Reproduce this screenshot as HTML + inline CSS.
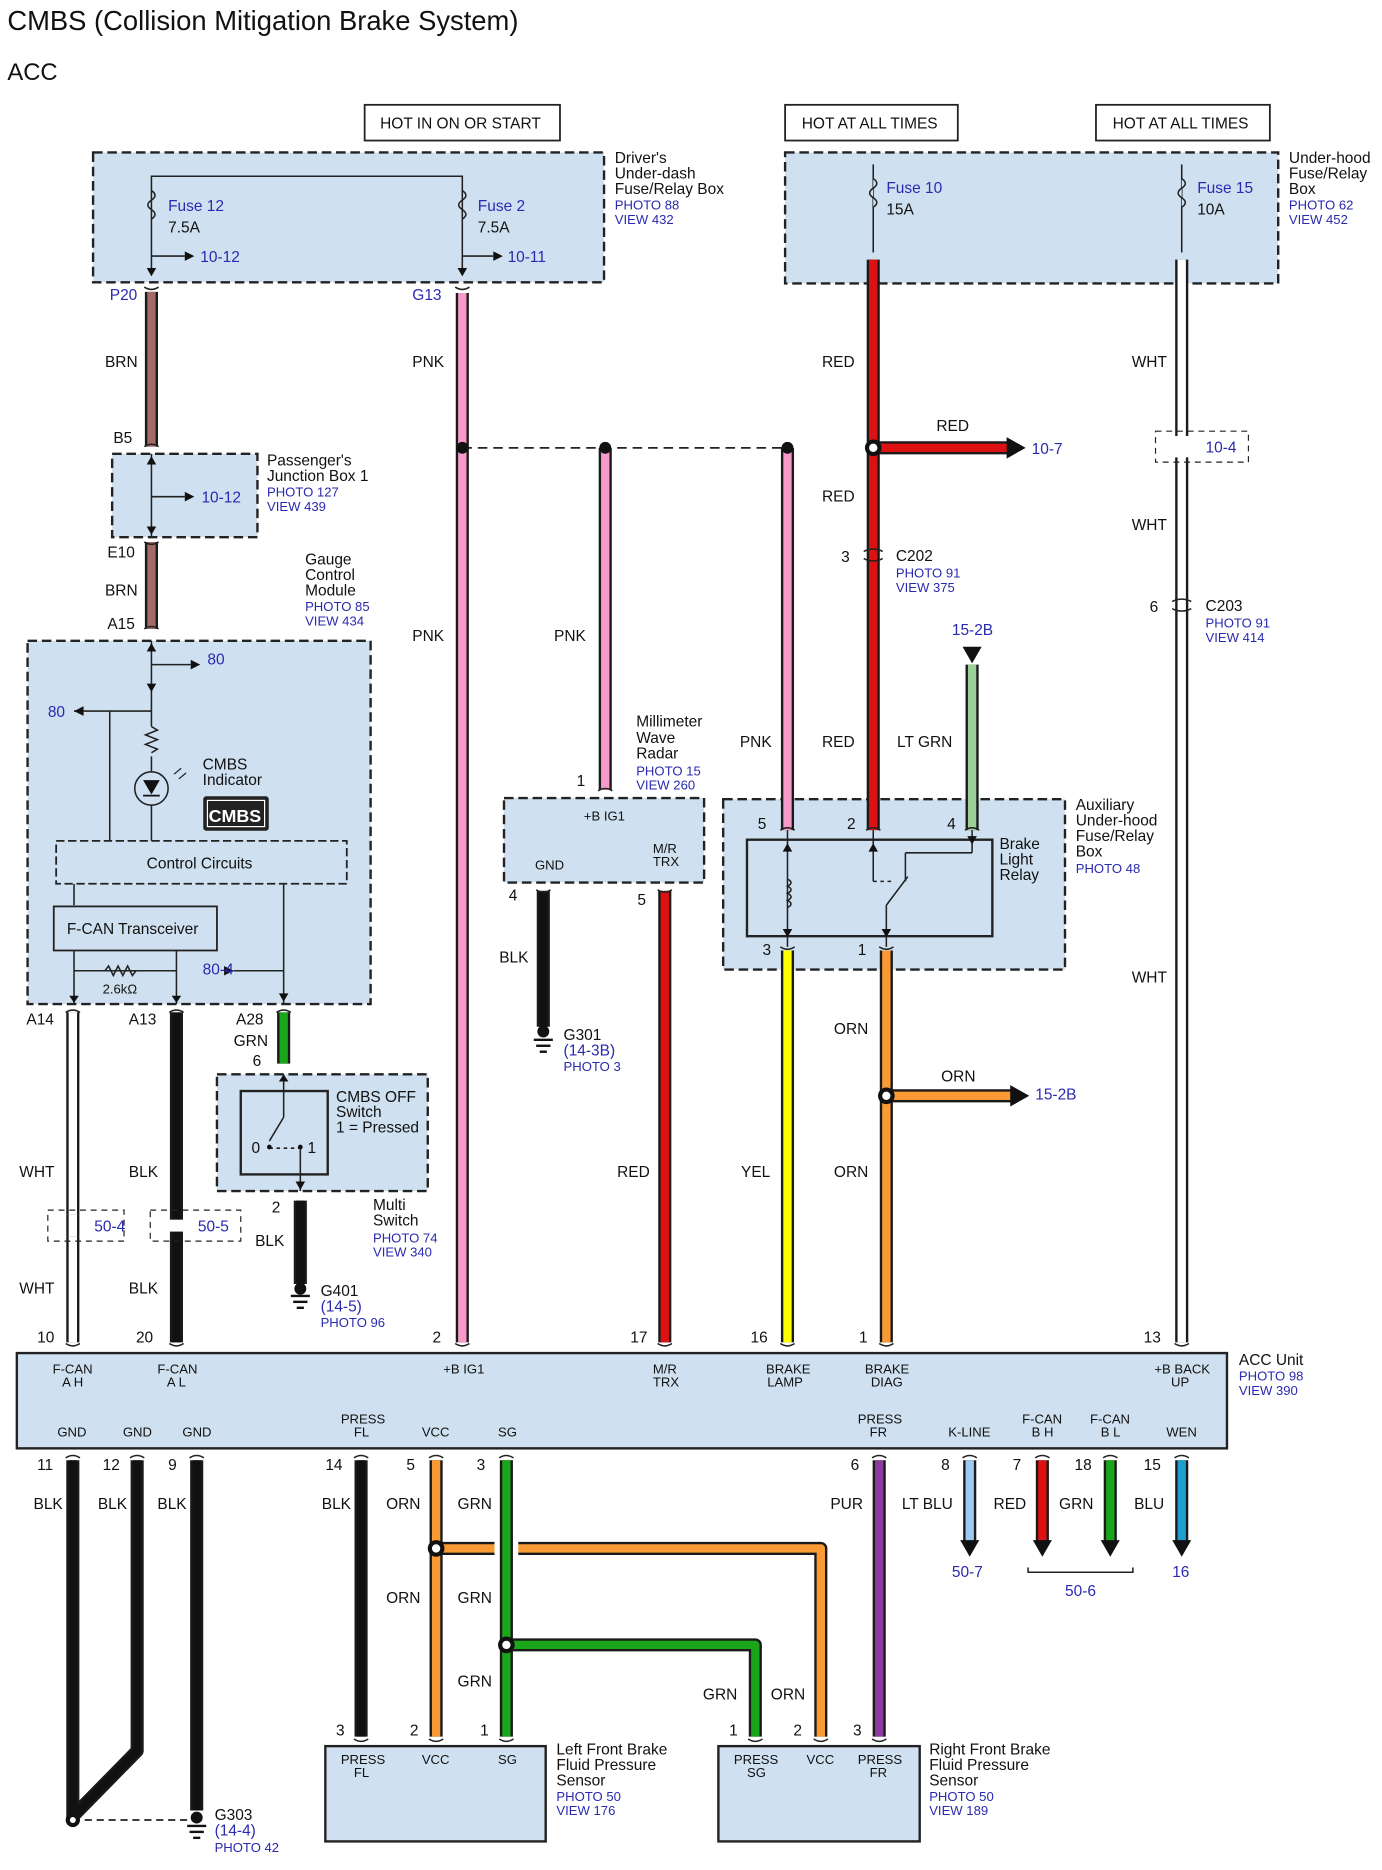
<!DOCTYPE html>
<html><head><meta charset="utf-8">
<style>
html,body{margin:0;padding:0;background:#fff}
svg{display:block}
text{font-family:"Liberation Sans",Arial,sans-serif;font-size:13px;fill:#111}
.b{fill:#2a2ab0}
.s{font-size:11px}
.o{stroke:#1a1a1a;stroke-width:11;fill:none;stroke-linejoin:round}
.i{stroke-width:7;fill:none;stroke-linejoin:round}
.box{fill:#cfe0f0;stroke:#222;stroke-width:2;stroke-dasharray:8 4}
.sol{fill:none;stroke:#222;stroke-width:1.5}
.ln{stroke:#222;stroke-width:1.3;fill:none}
</style></head><body>
<svg width="1382" height="1870" viewBox="0 0 1160 1570" xmlns="http://www.w3.org/2000/svg">
<text x="6" y="25" style="font-size:23px">CMBS (Collision Mitigation Brake System)</text>
<text x="6" y="67" style="font-size:20px">ACC</text>

<!-- top labels -->
<rect x="306" y="88" width="164" height="30" fill="#fff" stroke="#222" stroke-width="1.5"/><text x="319" y="108">HOT IN ON OR START</text>
<rect x="659" y="88" width="145" height="30" fill="#fff" stroke="#222" stroke-width="1.5"/><text x="673" y="108">HOT AT ALL TIMES</text>
<rect x="920" y="88" width="146" height="30" fill="#fff" stroke="#222" stroke-width="1.5"/><text x="934" y="108">HOT AT ALL TIMES</text>

<!-- boxes -->
<rect class="box" x="78" y="128" width="429" height="109"/>
<rect class="box" x="659" y="128" width="414" height="110"/>
<rect class="box" x="94" y="381" width="122" height="70"/>
<rect class="box" x="23" y="538" width="288" height="305"/>
<rect class="box" x="423" y="670" width="168" height="71"/>
<rect class="box" x="607" y="671" width="287" height="143"/>
<rect class="box" x="182" y="902" width="177" height="98"/>
<rect x="14" y="1136" width="1016" height="80" fill="#cfe0f0" stroke="#222" stroke-width="2"/>
<rect x="273" y="1466" width="185" height="80" fill="#cfe0f0" stroke="#222" stroke-width="2"/>
<rect x="603" y="1466" width="169" height="80" fill="#cfe0f0" stroke="#222" stroke-width="2"/>

<!-- driver's box internals -->
<polyline class="ln" points="127,225 127,148 388,148 388,225"/>
<path class="ln" d="M127,160 q6,4 0,8 q-6,4 0,8 q6,4 0,8" fill="none"/>
<path class="ln" d="M388,160 q6,4 0,8 q-6,4 0,8 q6,4 0,8" fill="none"/>
<line class="ln" x1="127" y1="215" x2="155" y2="215"/><polygon points="155,211 163,215 155,219" fill="#111"/>
<line class="ln" x1="388" y1="215" x2="414" y2="215"/><polygon points="414,211 422,215 414,219" fill="#111"/>
<polygon points="123,225 131,225 127,232" fill="#111"/><polygon points="384,225 392,225 388,232" fill="#111"/>
<text x="141" y="177" class="b">Fuse 12</text><text x="141" y="195">7.5A</text><text x="168" y="220" class="b">10-12</text>
<text x="401" y="177" class="b">Fuse 2</text><text x="401" y="195">7.5A</text><text x="426" y="220" class="b">10-11</text>
<text x="516" y="137">Driver's</text><text x="516" y="150">Under-dash</text><text x="516" y="163">Fuse/Relay Box</text>
<text x="516" y="176" class="b s">PHOTO 88</text><text x="516" y="188" class="b s">VIEW 432</text>

<!-- underhood internals -->
<line class="ln" x1="733" y1="138" x2="733" y2="212"/><line class="ln" x1="992" y1="138" x2="992" y2="212"/>
<path d="M733,150 q6,4 0,8 q-6,4 0,8 q6,4 0,8" fill="#cfe0f0" stroke="#222" stroke-width="1.3"/>
<path d="M992,150 q6,4 0,8 q-6,4 0,8 q6,4 0,8" fill="#cfe0f0" stroke="#222" stroke-width="1.3"/>
<text x="744" y="162" class="b">Fuse 10</text><text x="744" y="180">15A</text>
<text x="1005" y="162" class="b">Fuse 15</text><text x="1005" y="180">10A</text>
<text x="1082" y="137">Under-hood</text><text x="1082" y="150">Fuse/Relay</text><text x="1082" y="163">Box</text>
<text x="1082" y="176" class="b s">PHOTO 62</text><text x="1082" y="188" class="b s">VIEW 452</text>

<!-- upper wires -->
<line class="o" x1="127" y1="245" x2="127" y2="375"/><line class="i" stroke="#a36a68" x1="127" y1="245" x2="127" y2="375"/>
<line class="o" x1="127" y1="455" x2="127" y2="528"/><line class="i" stroke="#a36a68" x1="127" y1="455" x2="127" y2="528"/>
<line class="o" x1="388" y1="246" x2="388" y2="1127"/><line class="i" stroke="#f79ac9" x1="388" y1="246" x2="388" y2="1127"/>
<line class="o" x1="508" y1="376" x2="508" y2="663"/><line class="i" stroke="#f79ac9" x1="508" y1="376" x2="508" y2="663"/>
<line class="o" x1="661" y1="376" x2="661" y2="697"/><line class="i" stroke="#f79ac9" x1="661" y1="376" x2="661" y2="697"/>
<line class="o" x1="733" y1="218" x2="733" y2="697"/><line class="i" stroke="#d11" x1="733" y1="218" x2="733" y2="697"/>
<line class="o" x1="733" y1="376" x2="848" y2="376"/><line class="i" stroke="#d11" x1="733" y1="376" x2="848" y2="376"/>
<polygon points="845,367 861,376 845,385" fill="#111"/>
<line class="o" x1="992" y1="218" x2="992" y2="1127"/><line class="i" stroke="#fff" x1="992" y1="218" x2="992" y2="1127"/>
<line class="o" x1="816" y1="558" x2="816" y2="697"/><line class="i" stroke="#9acf98" x1="816" y1="558" x2="816" y2="697"/>
<polygon points="808,543 824,543 816,557" fill="#111"/>
<line stroke="#222" stroke-width="1.5" stroke-dasharray="8 5" x1="388" y1="376" x2="661" y2="376"/>
<circle cx="388" cy="376" r="5" fill="#111"/><circle cx="508" cy="376" r="5" fill="#111"/><circle cx="661" cy="376" r="5" fill="#111"/>
<circle cx="733" cy="376" r="7" fill="#111"/><circle cx="733" cy="376" r="3.5" fill="#fff"/>
<rect x="970" y="362" width="78" height="26" fill="none" stroke="#222" stroke-dasharray="5 4" stroke-width="1"/>
<rect x="980" y="366" width="30" height="18" fill="#fff"/>
<text x="1012" y="380" class="b">10-4</text>

<!-- connector marks -->
<g class="ln">
<path d="M121,241 q6,4 12,0"/><path d="M121,375 q6,-4 12,0"/><path d="M121,455 q6,4 12,0"/><path d="M121,528 q6,-4 12,0"/>
<path d="M382,241 q6,4 12,0"/>
<path d="M725,463 q8,-4 16,0"/><path d="M725,469 q8,4 16,0"/>
<path d="M984,505 q8,-4 16,0"/><path d="M984,511 q8,4 16,0"/>
</g>
<text x="92" y="252" class="b">P20</text><text x="346" y="252" class="b">G13</text>
<text x="88" y="308">BRN</text><text x="346" y="308">PNK</text><text x="690" y="308">RED</text><text x="950" y="308">WHT</text>
<text x="95" y="372">B5</text><text x="786" y="362">RED</text><text x="866" y="381" class="b">10-7</text>
<text x="690" y="421">RED</text><text x="950" y="445">WHT</text>
<text x="706" y="472">3</text><text x="752" y="471">C202</text><text x="752" y="485" class="b s">PHOTO 91</text><text x="752" y="497" class="b s">VIEW 375</text>
<text x="965" y="514">6</text><text x="1012" y="513">C203</text><text x="1012" y="527" class="b s">PHOTO 91</text><text x="1012" y="539" class="b s">VIEW 414</text>
<text x="799" y="533" class="b">15-2B</text>
<text x="90" y="468">E10</text><text x="88" y="500">BRN</text><text x="90" y="528">A15</text>
<text x="346" y="538">PNK</text><text x="465" y="538">PNK</text>

<!-- passenger JB -->
<line class="ln" x1="127" y1="381" x2="127" y2="451"/>
<polygon points="123,390 131,390 127,383" fill="#111"/><polygon points="123,442 131,442 127,449" fill="#111"/>
<line class="ln" x1="127" y1="417" x2="155" y2="417"/><polygon points="155,413 163,417 155,421" fill="#111"/>
<text x="169" y="422" class="b">10-12</text>
<text x="224" y="391">Passenger's</text><text x="224" y="404">Junction Box 1</text>
<text x="224" y="417" class="b s">PHOTO 127</text><text x="224" y="429" class="b s">VIEW 439</text>

<!-- gauge module -->
<text x="256" y="474">Gauge</text><text x="256" y="487">Control</text><text x="256" y="500">Module</text>
<text x="256" y="513" class="b s">PHOTO 85</text><text x="256" y="525" class="b s">VIEW 434</text>
<g class="ln">
<line x1="127" y1="538" x2="127" y2="610"/>
<line x1="127" y1="558" x2="160" y2="558"/>
<line x1="62" y1="597" x2="127" y2="597"/>
<line x1="92" y1="597" x2="92" y2="706"/>
<path d="M127,610 l5,3 -10,4 10,4 -10,4 10,4 -5,3"/>
<line x1="127" y1="635" x2="127" y2="648"/>
<circle cx="127" cy="662" r="14"/>
<line x1="127" y1="676" x2="127" y2="706"/>
<line x1="62" y1="742" x2="62" y2="760"/><line x1="238" y1="742" x2="238" y2="815"/>
<line x1="62" y1="798" x2="62" y2="843"/><line x1="148" y1="798" x2="148" y2="843"/>
<line x1="62" y1="815" x2="148" y2="815"/>
<path d="M88,815 l3,-4 4,8 4,-8 4,8 4,-8 4,8 3,-4"/>
<line x1="196" y1="815" x2="238" y2="815"/>
<line x1="238" y1="815" x2="238" y2="843"/>
</g>
<polygon points="123,547 131,547 127,540" fill="#111"/><polygon points="123,574 131,574 127,581" fill="#111"/>
<polygon points="160,554 168,558 160,562" fill="#111"/><polygon points="70,593 62,597 70,601" fill="#111"/>
<polygon points="120,655 134,655 127,667" fill="#111"/><line x1="120" y1="668" x2="134" y2="668" stroke="#111" stroke-width="1.5"/>
<path d="M146,650 l6,-5 M150,654 l6,-5" stroke="#222"/>
<polygon points="58,836 66,836 62,842" fill="#111"/><polygon points="144,836 152,836 148,842" fill="#111"/>
<polygon points="188,811 196,815 188,819" fill="#111"/><polygon points="234,834 242,834 238,841" fill="#111"/>
<text x="174" y="558" class="b">80</text><text x="40" y="602" class="b">80</text>
<text x="170" y="646">CMBS</text><text x="170" y="659">Indicator</text>
<rect x="171" y="669" width="54" height="28" fill="#222" stroke="#222" rx="2"/>
<rect x="174" y="672" width="48" height="22" fill="none" stroke="#fff" stroke-width="1"/>
<text x="175" y="690" style="fill:#fff;font-weight:bold;font-size:15px">CMBS</text>
<rect x="47" y="706" width="244" height="36" fill="#cfe0f0" stroke="#222" stroke-width="1.5" stroke-dasharray="7 3"/>
<text x="123" y="729">Control Circuits</text>
<rect x="45" y="761" width="137" height="37" fill="#cfe0f0" stroke="#222" stroke-width="1.5"/>
<text x="56" y="784">F-CAN Transceiver</text>
<text x="86" y="834" class="s">2.6kΩ</text><text x="170" y="818" class="b">80-4</text>

<!-- wires gauge down -->
<line class="o" x1="61" y1="850" x2="61" y2="1127"/><line class="i" stroke="#fff" x1="61" y1="850" x2="61" y2="1127"/>
<line class="o" x1="148" y1="850" x2="148" y2="1127"/><line class="i" stroke="#111" x1="148" y1="850" x2="148" y2="1127"/>
<line class="o" x1="238" y1="850" x2="238" y2="893"/><line class="i" stroke="#1aa51a" x1="238" y1="850" x2="238" y2="893"/>
<line class="o" x1="252" y1="1008" x2="252" y2="1078"/><line class="i" stroke="#111" x1="252" y1="1008" x2="252" y2="1078"/>
<g class="ln"><path d="M55,850 q6,-4 12,0"/><path d="M142,850 q6,-4 12,0"/><path d="M232,850 q6,-4 12,0"/></g>
<text x="22" y="860">A14</text><text x="108" y="860">A13</text><text x="198" y="860">A28</text>
<text x="196" y="878">GRN</text><text x="212" y="895">6</text>
<text x="16" y="988">WHT</text><text x="108" y="988">BLK</text>
<rect x="40" y="1016" width="64" height="26" fill="none" stroke="#222" stroke-dasharray="5 4" stroke-width="1"/>
<rect x="126" y="1016" width="76" height="26" fill="none" stroke="#222" stroke-dasharray="5 4" stroke-width="1"/>
<rect x="50" y="1020" width="24" height="18" fill="#fff"/>
<line class="o" x1="61" y1="1020" x2="61" y2="1038"/><line class="i" stroke="#fff" x1="61" y1="1020" x2="61" y2="1038"/>
<rect x="141" y="1024" width="14" height="10" fill="#fff"/>
<text x="79" y="1034" class="b">50-4</text><text x="166" y="1034" class="b">50-5</text>
<text x="16" y="1086">WHT</text><text x="108" y="1086">BLK</text>
<text x="31" y="1127">10</text><text x="114" y="1127">20</text>

<!-- switch -->
<rect x="202" y="916" width="73" height="70" fill="none" stroke="#222" stroke-width="2"/>
<g class="ln"><line x1="238" y1="902" x2="238" y2="938"/><line x1="238" y1="938" x2="226" y2="958"/>
<line x1="226" y1="964" x2="252" y2="964" stroke-dasharray="3 3"/><line x1="252" y1="964" x2="252" y2="1000"/></g>
<circle cx="226" cy="963" r="2" fill="#111"/><circle cx="252" cy="963" r="2" fill="#111"/>
<polygon points="234,908 242,908 238,902" fill="#111"/><polygon points="248,992 256,992 252,999" fill="#111"/>
<text x="211" y="968">0</text><text x="258" y="968">1</text>
<text x="282" y="925">CMBS OFF</text><text x="282" y="938">Switch</text><text x="282" y="951">1 = Pressed</text>
<text x="228" y="1018">2</text><text x="214" y="1046">BLK</text>
<text x="313" y="1016">Multi</text><text x="313" y="1029">Switch</text><text x="313" y="1043" class="b s">PHOTO 74</text><text x="313" y="1055" class="b s">VIEW 340</text>
<g stroke="#111" stroke-width="2"><line x1="244" y1="1088" x2="260" y2="1088"/><line x1="246" y1="1093" x2="258" y2="1093"/><line x1="249" y1="1098" x2="255" y2="1098"/></g>
<circle cx="252" cy="1082" r="5" fill="#111"/>
<text x="269" y="1088">G401</text><text x="269" y="1101" class="b">(14-5)</text><text x="269" y="1114" class="b s">PHOTO 96</text>

<!-- radar -->
<line class="o" x1="456" y1="748" x2="456" y2="862"/><line class="i" stroke="#111" x1="456" y1="748" x2="456" y2="862"/>
<line class="o" x1="558" y1="748" x2="558" y2="1127"/><line class="i" stroke="#d11" x1="558" y1="748" x2="558" y2="1127"/>
<circle cx="456" cy="866" r="5" fill="#111"/>
<g stroke="#111" stroke-width="2"><line x1="448" y1="873" x2="464" y2="873"/><line x1="450" y1="878" x2="462" y2="878"/><line x1="453" y1="883" x2="459" y2="883"/></g>
<g class="ln"><path d="M502,664 q6,-4 12,0"/><path d="M450,747 q6,4 12,0"/><path d="M552,747 q6,4 12,0"/></g>
<text x="484" y="660">1</text><text x="490" y="689" class="s">+B IG1</text>
<text x="449" y="730" class="s">GND</text><text x="548" y="716" class="s">M/R</text><text x="548" y="727" class="s">TRX</text>
<text x="427" y="756">4</text><text x="535" y="760">5</text>
<text x="534" y="610">Millimeter</text><text x="534" y="624">Wave</text><text x="534" y="637">Radar</text>
<text x="534" y="651" class="b s">PHOTO 15</text><text x="534" y="663" class="b s">VIEW 260</text>
<text x="419" y="808">BLK</text>
<text x="473" y="873">G301</text><text x="473" y="886" class="b">(14-3B)</text><text x="473" y="899" class="b s">PHOTO 3</text>
<text x="518" y="988">RED</text>

<!-- aux box -->
<text x="621" y="627">PNK</text><text x="690" y="627">RED</text><text x="753" y="627">LT GRN</text>
<text x="636" y="696">5</text><text x="711" y="696">2</text><text x="795" y="696">4</text>
<rect x="627" y="705" width="206" height="81" fill="none" stroke="#222" stroke-width="2"/>
<g class="ln">
<line x1="661" y1="697" x2="661" y2="795"/><line x1="744" y1="760" x2="744" y2="795"/>
<line x1="733" y1="697" x2="733" y2="740"/><line x1="816" y1="697" x2="816" y2="716"/><line x1="816" y1="716" x2="760" y2="716"/><line x1="760" y1="716" x2="760" y2="740"/>
<line x1="733" y1="740" x2="748" y2="740" stroke-dasharray="3 3"/><line x1="744" y1="760" x2="762" y2="736"/>
<path d="M661,738 q6,3 0,6 q6,3 0,6 q6,3 0,6 q6,3 0,6"/>
</g>
<polygon points="657,715 665,715 661,708" fill="#111"/><polygon points="657,780 665,780 661,787" fill="#111"/>
<polygon points="729,715 737,715 733,708" fill="#111"/><polygon points="740,780 748,780 744,787" fill="#111"/>
<polygon points="812,702 820,702 816,709" fill="#111"/>
<text x="839" y="713">Brake</text><text x="839" y="726">Light</text><text x="839" y="739">Relay</text>
<text x="903" y="680">Auxiliary</text><text x="903" y="693">Under-hood</text><text x="903" y="706">Fuse/Relay</text><text x="903" y="719">Box</text><text x="903" y="733" class="b s">PHOTO 48</text>
<g class="ln"><path d="M655,697 q6,-4 12,0"/><path d="M727,697 q6,-4 12,0"/><path d="M810,697 q6,-4 12,0"/><path d="M655,795 q6,4 12,0"/><path d="M738,795 q6,4 12,0"/></g>
<text x="640" y="802">3</text><text x="720" y="802">1</text>
<line class="o" x1="661" y1="798" x2="661" y2="1127"/><line class="i" stroke="#ff0" x1="661" y1="798" x2="661" y2="1127"/>
<line class="o" x1="744" y1="798" x2="744" y2="1127"/><line class="i" stroke="#f99a35" x1="744" y1="798" x2="744" y2="1127"/>
<line class="o" x1="744" y1="920" x2="850" y2="920"/><line class="i" stroke="#f99a35" x1="744" y1="920" x2="850" y2="920"/>
<polygon points="848,911 864,920 848,929" fill="#111"/>
<circle cx="744" cy="920" r="7" fill="#111"/><circle cx="744" cy="920" r="3.5" fill="#fff"/>
<text x="700" y="868">ORN</text><text x="790" y="908">ORN</text><text x="869" y="923" class="b">15-2B</text>
<text x="700" y="988">ORN</text><text x="622" y="988">YEL</text><text x="950" y="825">WHT</text>

<!-- wire ends at ACC unit -->
<g class="ln"><path d="M55,1128 q6,4 12,0"/><path d="M142,1128 q6,4 12,0"/><path d="M382,1128 q6,4 12,0"/><path d="M552,1128 q6,4 12,0"/><path d="M655,1128 q6,4 12,0"/><path d="M738,1128 q6,4 12,0"/><path d="M986,1128 q6,4 12,0"/></g>
<text x="363" y="1127">2</text><text x="529" y="1127">17</text><text x="630" y="1127">16</text><text x="721" y="1127">1</text><text x="960" y="1127">13</text>

<!-- ACC unit labels -->
<g class="s">
<text x="44" y="1153" class="s">F-CAN</text><text x="52" y="1164" class="s">A H</text>
<text x="132" y="1153" class="s">F-CAN</text><text x="140" y="1164" class="s">A L</text>
<text x="372" y="1153" class="s">+B IG1</text>
<text x="548" y="1153" class="s">M/R</text><text x="548" y="1164" class="s">TRX</text>
<text x="643" y="1153" class="s">BRAKE</text><text x="644" y="1164" class="s">LAMP</text>
<text x="726" y="1153" class="s">BRAKE</text><text x="731" y="1164" class="s">DIAG</text>
<text x="969" y="1153" class="s">+B BACK</text><text x="983" y="1164" class="s">UP</text>
<text x="48" y="1206" class="s">GND</text><text x="103" y="1206" class="s">GND</text><text x="153" y="1206" class="s">GND</text>
<text x="286" y="1195" class="s">PRESS</text><text x="297" y="1206" class="s">FL</text>
<text x="354" y="1206" class="s">VCC</text><text x="418" y="1206" class="s">SG</text>
<text x="720" y="1195" class="s">PRESS</text><text x="730" y="1206" class="s">FR</text>
<text x="796" y="1206" class="s">K-LINE</text>
<text x="858" y="1195" class="s">F-CAN</text><text x="866" y="1206" class="s">B H</text>
<text x="915" y="1195" class="s">F-CAN</text><text x="924" y="1206" class="s">B L</text>
<text x="979" y="1206" class="s">WEN</text>
</g>
<text x="1040" y="1146">ACC Unit</text><text x="1040" y="1159" class="b s">PHOTO 98</text><text x="1040" y="1171" class="b s">VIEW 390</text>

<!-- bottom wires -->
<g class="ln"><path d="M55,1224 q6,-4 12,0"/><path d="M109,1224 q6,-4 12,0"/><path d="M159,1224 q6,-4 12,0"/><path d="M297,1224 q6,-4 12,0"/><path d="M360,1224 q6,-4 12,0"/><path d="M419,1224 q6,-4 12,0"/><path d="M732,1224 q6,-4 12,0"/><path d="M808,1224 q6,-4 12,0"/><path d="M869,1224 q6,-4 12,0"/><path d="M926,1224 q6,-4 12,0"/><path d="M986,1224 q6,-4 12,0"/></g>
<text x="31" y="1234">11</text><text x="86" y="1234">12</text><text x="141" y="1234">9</text><text x="273" y="1234">14</text><text x="341" y="1234">5</text><text x="400" y="1234">3</text><text x="714" y="1234">6</text><text x="790" y="1234">8</text><text x="850" y="1234">7</text><text x="902" y="1234">18</text><text x="960" y="1234">15</text>
<polyline class="o" points="61,1226 61,1525 115,1470 115,1226"/><polyline class="i" stroke="#111" points="61,1226 61,1525 115,1470 115,1226"/>
<line class="o" x1="165" y1="1226" x2="165" y2="1520"/><line class="i" stroke="#111" x1="165" y1="1226" x2="165" y2="1520"/>
<line class="o" x1="303" y1="1226" x2="303" y2="1458"/><line class="i" stroke="#111" x1="303" y1="1226" x2="303" y2="1458"/>
<polyline class="o" points="689,1458 689,1300 366,1300"/><polyline class="i" stroke="#f99a35" points="689,1458 689,1300 366,1300"/>
<line class="o" x1="366" y1="1226" x2="366" y2="1458"/><line class="i" stroke="#f99a35" x1="366" y1="1226" x2="366" y2="1458"/>
<rect x="415" y="1292" width="20" height="16" fill="#fff"/>
<polyline class="o" points="634,1458 634,1381 425,1381"/><polyline class="i" stroke="#1aa51a" points="634,1458 634,1381 425,1381"/>
<line class="o" x1="425" y1="1226" x2="425" y2="1458"/><line class="i" stroke="#1aa51a" x1="425" y1="1226" x2="425" y2="1458"/>
<line class="o" x1="738" y1="1226" x2="738" y2="1458"/><line class="i" stroke="#8e3a9e" x1="738" y1="1226" x2="738" y2="1458"/>
<line class="o" x1="814" y1="1226" x2="814" y2="1294"/><line class="i" stroke="#9ccaf0" x1="814" y1="1226" x2="814" y2="1294"/>
<line class="o" x1="875" y1="1226" x2="875" y2="1294"/><line class="i" stroke="#d11" x1="875" y1="1226" x2="875" y2="1294"/>
<line class="o" x1="932" y1="1226" x2="932" y2="1294"/><line class="i" stroke="#1aa51a" x1="932" y1="1226" x2="932" y2="1294"/>
<line class="o" x1="992" y1="1226" x2="992" y2="1294"/><line class="i" stroke="#1e9fd0" x1="992" y1="1226" x2="992" y2="1294"/>
<g fill="#111"><polygon points="806,1293 822,1293 814,1307"/><polygon points="867,1293 883,1293 875,1307"/><polygon points="924,1293 940,1293 932,1307"/><polygon points="984,1293 1000,1293 992,1307"/></g>
<circle cx="366" cy="1300" r="7" fill="#111"/><circle cx="366" cy="1300" r="3.5" fill="#fff"/>
<circle cx="425" cy="1381" r="7" fill="#111"/><circle cx="425" cy="1381" r="3.5" fill="#fff"/>
<text x="28" y="1267">BLK</text><text x="82" y="1267">BLK</text><text x="132" y="1267">BLK</text><text x="270" y="1267">BLK</text><text x="324" y="1267">ORN</text><text x="384" y="1267">GRN</text>
<text x="697" y="1267">PUR</text><text x="757" y="1267">LT BLU</text><text x="834" y="1267">RED</text><text x="889" y="1267">GRN</text><text x="952" y="1267">BLU</text>
<text x="799" y="1324" class="b">50-7</text><text x="984" y="1324" class="b">16</text>
<path d="M863,1316 v4 h88 v-4" class="ln"/><text x="894" y="1340" class="b">50-6</text>
<text x="324" y="1346">ORN</text><text x="384" y="1346">GRN</text><text x="384" y="1416">GRN</text>
<text x="590" y="1427">GRN</text><text x="647" y="1427">ORN</text>
<g class="ln"><path d="M297,1460 q6,4 12,0"/><path d="M360,1460 q6,4 12,0"/><path d="M419,1460 q6,4 12,0"/><path d="M628,1460 q6,4 12,0"/><path d="M683,1460 q6,4 12,0"/><path d="M732,1460 q6,4 12,0"/></g>
<text x="282" y="1457">3</text><text x="344" y="1457">2</text><text x="403" y="1457">1</text><text x="612" y="1457">1</text><text x="666" y="1457">2</text><text x="716" y="1457">3</text>
<g class="s"><text x="286" y="1481" class="s">PRESS</text><text x="297" y="1492" class="s">FL</text><text x="354" y="1481" class="s">VCC</text><text x="418" y="1481" class="s">SG</text>
<text x="616" y="1481" class="s">PRESS</text><text x="627" y="1492" class="s">SG</text><text x="677" y="1481" class="s">VCC</text><text x="720" y="1481" class="s">PRESS</text><text x="730" y="1492" class="s">FR</text></g>
<text x="467" y="1473">Left Front Brake</text><text x="467" y="1486">Fluid Pressure</text><text x="467" y="1499">Sensor</text><text x="467" y="1512" class="b s">PHOTO 50</text><text x="467" y="1524" class="b s">VIEW 176</text>
<text x="780" y="1473">Right Front Brake</text><text x="780" y="1486">Fluid Pressure</text><text x="780" y="1499">Sensor</text><text x="780" y="1512" class="b s">PHOTO 50</text><text x="780" y="1524" class="b s">VIEW 189</text>
<!-- G303 -->
<line stroke="#222" stroke-width="1.5" stroke-dasharray="6 4" x1="61" y1="1528" x2="165" y2="1528"/>
<circle cx="61" cy="1528" r="6" fill="#111"/><circle cx="61" cy="1528" r="2.5" fill="#fff"/>
<circle cx="165" cy="1526" r="5" fill="#111"/>
<g stroke="#111" stroke-width="2"><line x1="157" y1="1533" x2="173" y2="1533"/><line x1="159" y1="1538" x2="171" y2="1538"/><line x1="162" y1="1543" x2="168" y2="1543"/></g>
<text x="180" y="1528">G303</text><text x="180" y="1541" class="b">(14-4)</text><text x="180" y="1555" class="b s">PHOTO 42</text>
</svg>
</body></html>
